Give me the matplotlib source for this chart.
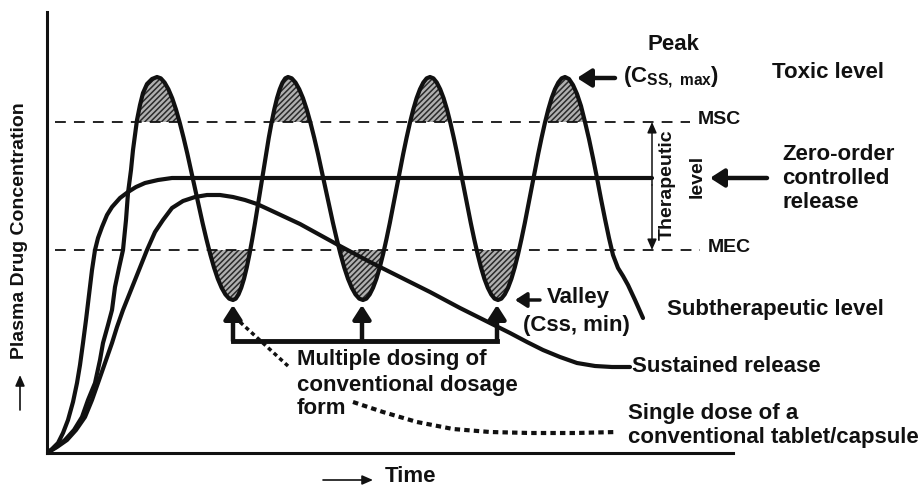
import numpy as np
import matplotlib
matplotlib.use('Agg')
import matplotlib.pyplot as plt

plt.rcParams['font.family'] = ['Liberation Sans', 'DejaVu Sans']
plt.rcParams['mathtext.fontset'] = 'custom'
plt.rcParams['mathtext.rm'] = 'Liberation Sans:bold'
plt.rcParams['mathtext.it'] = 'Liberation Sans:bold'
plt.rcParams['mathtext.bf'] = 'Liberation Sans:bold'
plt.rcParams['hatch.linewidth'] = 1.1

# ---------------- data (time / concentration, arbitrary units) ----------------
msc_level = 33.1          # maximum safe concentration
mec_level = 20.3          # minimum effective concentration
zero_order_level = 27.5

# multiple dosing: first dose rise
first_dose_t = [0, 0.9, 1.8, 2.7, 3.5, 4.1, 4.8, 5.3, 5.6, 6.1, 6.5, 6.8, 7.2, 7.6,
                7.9, 8.1, 8.4, 8.6, 8.8, 9.0, 9.3, 9.6, 10.0, 10.5, 11.0]
first_dose_c = [0, 0.6, 1.3, 2.3, 3.6, 5.3, 7.0, 9.3, 11.0, 12.8, 14.3, 16.6, 18.5, 20.3,
                23.3, 26.0, 28.3, 30.3, 31.8, 33.3, 34.8, 36.0, 36.9, 37.4, 37.6]
# peaks (Css,max) and valleys (Css,min) of repeated dosing
turn_t = [11.0, 18.6, 24.1, 31.6, 38.3, 45.1, 51.8]
turn_c = [37.6, 15.3, 37.6, 15.3, 37.6, 15.3, 37.6]
# shape of one rise/fall between turning points (fraction of time, fraction of change)
cycle_shape_u = [0, .05, .1, .15, .2, .25, .3, .35, .4, .45, .5,
                 .55, .6, .65, .7, .75, .8, .85, .9, .95, 1]
cycle_shape_d = [0, .006, .025, .055, .095, .146, .206, .273, .345, .422, .5,
                 .578, .655, .727, .794, .854, .905, .945, .975, .994, 1]
# final decline after last dose
last_t = [52.2, 52.6, 53.0, 53.4, 53.8, 54.2, 54.6, 55.0, 55.4, 55.8, 56.2, 56.6,
          57.1, 57.6, 58.1, 58.8, 59.6]
last_c = [37.4, 36.8, 35.9, 34.7, 33.1, 31.4, 29.5, 27.5, 25.4, 23.4, 21.5, 19.8,
          18.5, 17.7, 16.8, 15.3, 13.5]

# zero-order controlled release
zero_t = [0, 0.5, 1.1, 1.6, 2.1, 2.6, 3.0, 3.3, 3.6, 3.9, 4.2, 4.5, 4.8, 5.1, 5.5,
          6.0, 6.5, 7.3, 8.1, 8.9, 9.8, 11.1, 12.5, 60.5]
zero_c = [0, 0.4, 1.0, 2.0, 3.3, 5.1, 7.0, 8.8, 11.0, 13.3, 15.8, 18.3, 20.3, 21.5, 22.6,
          23.8, 24.6, 25.5, 26.1, 26.6, 27.0, 27.3, 27.5, 27.5]

# sustained release
sr_t = [0, 1.0, 2.0, 2.9, 3.8, 4.5, 5.1, 5.8, 6.5, 7.0, 7.6, 8.2, 8.8, 9.4, 10.0, 10.8,
        11.6, 12.5, 13.6, 14.8, 16.0, 17.3, 18.6, 19.8, 21.0, 22.3, 25.3, 29.3, 32.3,
        35.3, 38.3, 41.3, 44.3, 46.3, 48.0, 49.6, 51.3, 53.0, 54.8, 56.5, 58.3]
sr_c = [0, 0.6, 1.3, 2.3, 3.6, 5.3, 7.0, 9.0, 11.0, 12.6, 14.3, 15.8, 17.3, 18.8, 20.3,
        22.1, 23.3, 24.5, 25.2, 25.6, 25.8, 25.8, 25.6, 25.3, 24.9, 24.3, 22.9, 20.7,
        19.1, 17.6, 16.1, 14.5, 13.0, 12.0, 11.1, 10.3, 9.6, 9.0, 8.7, 8.6, 8.6]

# single conventional dose (tail)
single_t = [30.6, 33.6, 37.0, 40.6, 44.3, 48.3, 52.8, 57.0]
single_c = [5.1, 4.1, 3.1, 2.4, 2.1, 2.0, 2.0, 2.1]

# dosing times
dose_t = [18.6, 31.5, 45.0]

# ---------------- build multiple-dosing curve ----------------
wave_t = list(first_dose_t)
wave_c = list(first_dose_c)
for i in range(len(turn_t) - 1):
    t0, t1 = turn_t[i], turn_t[i + 1]
    c0, c1 = turn_c[i], turn_c[i + 1]
    for u, d in zip(cycle_shape_u[1:], cycle_shape_d[1:]):
        wave_t.append(t0 + (t1 - t0) * u)
        wave_c.append(c0 + (c1 - c0) * d)
wave_t += last_t
wave_c += last_c
wave_t = np.array(wave_t)
wave_c = np.array(wave_c)

INK = '#111111'
fig = plt.figure(figsize=(9.23, 4.88), dpi=100)
ax = fig.add_axes([47 / 923, 35 / 488, 686 / 923, 441 / 488])
ax.set_xlim(0, 68.6)
ax.set_ylim(0, 44.1)
for s in ['top', 'right']:
    ax.spines[s].set_visible(False)
for s in ['left', 'bottom']:
    ax.spines[s].set_linewidth(2.2)
    ax.spines[s].set_color(INK)
ax.set_xticks([])
ax.set_yticks([])

# hatched areas (toxic / subtherapeutic)
in_doses = (wave_t > turn_t[0]) & (wave_t < turn_t[-1])
ax.fill_between(wave_t, wave_c, msc_level, where=wave_c >= msc_level, interpolate=True,
                facecolor='#b0b0b0', edgecolor='#2a2a2a', hatch='//////', linewidth=0, zorder=1)
ax.fill_between(wave_t, wave_c, mec_level, where=(wave_c <= mec_level) & in_doses,
                interpolate=True, facecolor='#b0b0b0', edgecolor='#2a2a2a', hatch='//////',
                linewidth=0, zorder=1)

# reference levels
ax.plot([0.8, 64.3], [msc_level, msc_level], color=INK, lw=1.3, dashes=(6, 4.5), zorder=2)
ax.plot([0.8, 65.3], [mec_level, mec_level], color=INK, lw=1.3, dashes=(6, 4.5), zorder=2)

curve_kw = dict(color=INK, lw=3.0, solid_joinstyle='round', solid_capstyle='round', zorder=3)
ax.plot(wave_t, wave_c, **curve_kw)
ax.plot(zero_t, zero_c, **curve_kw)
ax.plot(sr_t, sr_c, **curve_kw)
ax.plot(single_t, single_c, color=INK, lw=3.0, dashes=(1.3, 1.0), zorder=3)


def arrow(x0, y0, x1, y1, lw=3.2, ms=12, style='-|>,head_length=0.7,head_width=0.45'):
    ax.annotate('', xy=(x1, y1), xytext=(x0, y0), annotation_clip=False,
                arrowprops=dict(arrowstyle=style, lw=lw, color=INK, mutation_scale=ms,
                                shrinkA=0, shrinkB=0))


# dosing arrows with bracket
bar_c = 11.2
ax.plot([dose_t[0], dose_t[-1]], [bar_c, bar_c], color=INK, lw=3.5,
        solid_capstyle='projecting', zorder=3)
for t in dose_t:
    arrow(t, bar_c, t, 14.8)
# dotted leader to label
ax.plot([19.3, 24.1], [13.1, 8.7], color=INK, lw=2.5, dashes=(1.2, 1.0), zorder=3)

# therapeutic range bracket
arrow(60.5, 26.8, 60.5, msc_level, lw=1.1, ms=8, style='-|>,head_length=0.8,head_width=0.35')
arrow(60.5, 26.8, 60.5, mec_level, lw=1.1, ms=8, style='-|>,head_length=0.8,head_width=0.35')

# pointer arrows
arrow(72.0, zero_order_level, 66.3, zero_order_level)
arrow(56.8, 37.5, 53.0, 37.5)
arrow(49.3, 15.3, 46.8, 15.3, lw=2.5, ms=10)
# axis arrows
arrow(-2.7, 4.3, -2.7, 7.8, lw=1.2, ms=8, style='-|>,head_length=0.8,head_width=0.35')
arrow(27.6, -2.7, 32.6, -2.7, lw=1.2, ms=8, style='-|>,head_length=0.8,head_width=0.35')

# ---------------- text ----------------
FS = 16
tk = dict(color=INK, fontsize=FS, fontweight='bold', va='center', ha='left', clip_on=False)
small = {**tk, 'fontsize': 14}
ax.text(62.6, 40.8, 'Peak', **{**tk, 'ha': 'center'})
ax.text(57.6, 37.6, r'$\mathregular{(C_{SS,\ max})}$', **tk)
ax.text(72.5, 38.0, 'Toxic level', **tk)
ax.text(65.1, 33.4, 'MSC', **small)
ax.text(73.5, 29.8, 'Zero-order', **tk)
ax.text(73.5, 27.5, 'controlled', **tk)
ax.text(73.5, 25.0, 'release', **tk)
ax.text(62.0, 26.8, 'Therapeutic', rotation=90, **{**small, 'ha': 'center'})
ax.text(65.0, 27.7, 'level', rotation=90, **{**small, 'ha': 'center'})
ax.text(66.1, 20.5, 'MEC', **small)
ax.text(50.0, 15.5, 'Valley', **tk)
ax.text(47.6, 12.8, '(Css, min)', **tk)
ax.text(62.0, 14.3, 'Subtherapeutic level', **tk)
ax.text(58.5, 8.7, 'Sustained release', **tk)
ax.text(58.1, 4.0, 'Single dose of a', **tk)
ax.text(58.1, 1.6, 'conventional tablet/capsule', **tk)
ax.text(25.0, 9.3, 'Multiple dosing of', **tk)
ax.text(25.0, 6.8, 'conventional dosage', **tk)
ax.text(25.0, 4.5, 'form', **tk)
ax.text(33.8, -2.4, 'Time', **tk)
ax.text(-2.7, 22.2, 'Plasma Drug Concentration', rotation=90, **{**small, 'ha': 'center'})

fig.savefig('out.png', dpi=100)
